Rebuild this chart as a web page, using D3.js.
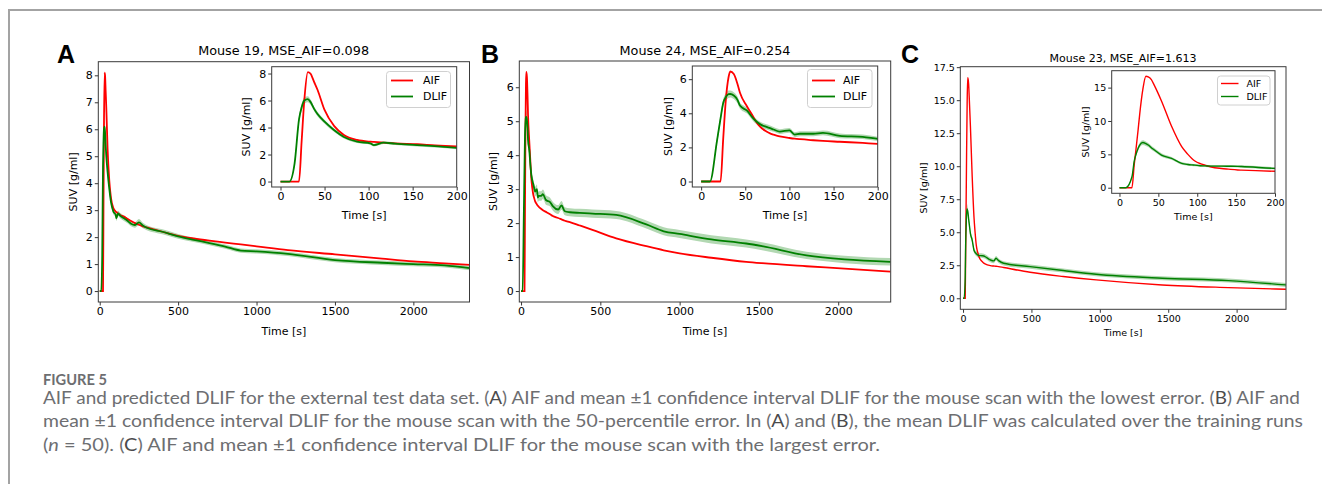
<!DOCTYPE html>
<html>
<head>
<meta charset="utf-8">
<script src="https://cdn.jsdelivr.net/npm/d3@7"></script>
<style>
  html, body { margin: 0; padding: 0; background: #fff; }
  svg { display: block; }
</style>
</head>
<body>
<script>
// ---- Mouse 19 (lowest error) ----
const timeA = [0, 10, 16, 21, 24, 27, 31, 34, 38, 42, 50, 61, 72, 87, 102, 106, 117, 130, 155, 175, 200, 225, 250, 275, 300, 400, 500, 600, 700, 800, 900, 1000, 1200, 1500, 1800, 2000, 2200, 2360];
const aifA  = [0, 0, 0, 0, 3.0, 6.0, 8.1, 8.0, 7.4, 6.8, 5.3, 4.1, 3.45, 3.08, 2.95, 2.93, 2.88, 2.82, 2.76, 2.68, 2.6, 2.52, 2.46, 2.4, 2.36, 2.2, 2.05, 1.95, 1.87, 1.8, 1.73, 1.66, 1.52, 1.36, 1.2, 1.1, 1.03, 0.97];
const dlifA = [0, 0, 1.35, 4.6, 5.5, 6.0, 6.1, 5.9, 5.4, 5.0, 4.43, 3.8, 3.3, 2.95, 2.83, 2.7, 2.88, 2.8, 2.7, 2.62, 2.5, 2.45, 2.55, 2.43, 2.35, 2.2, 2.03, 1.9, 1.78, 1.65, 1.5, 1.47, 1.38, 1.15, 1.05, 1.0, 0.95, 0.85];
const ciA   = [0, 0, 0.15, 0.25, 0.25, 0.25, 0.22, 0.2, 0.18, 0.16, 0.15, 0.13, 0.12, 0.1, 0.1, 0.1, 0.1, 0.1, 0.1, 0.1, 0.1, 0.1, 0.12, 0.1, 0.09, 0.09, 0.09, 0.08, 0.08, 0.08, 0.08, 0.08, 0.08, 0.08, 0.08, 0.08, 0.08, 0.08];

// ---- Mouse 24 (median error) ----
const timeB = [0, 10, 18, 22, 25, 28, 31, 33, 37, 41, 44, 52, 59, 63, 67, 74, 78, 82, 89, 100, 106, 112, 127, 138, 157, 183, 200, 234, 255, 276, 308, 370, 450, 600, 790, 900, 1000, 1200, 1420, 1520, 1800, 2040, 2330];
const aifB  = [0, 0, 0, 0, 2.5, 4.8, 6.1, 6.45, 6.3, 5.75, 5.2, 4.4, 3.8, 3.45, 3.2, 2.93, 2.82, 2.75, 2.64, 2.55, 2.51, 2.48, 2.42, 2.38, 2.33, 2.26, 2.21, 2.15, 2.11, 2.07, 2.03, 1.93, 1.8, 1.55, 1.32, 1.2, 1.11, 0.98, 0.86, 0.82, 0.73, 0.66, 0.57];
const dlifB = [0, 0, 2.4, 3.7, 4.6, 4.95, 5.12, 5.13, 5.04, 4.8, 4.45, 4.15, 3.7, 3.5, 3.35, 3.2, 3.13, 3.05, 2.93, 3.0, 2.75, 2.8, 2.8, 2.85, 2.68, 2.62, 2.5, 2.4, 2.52, 2.35, 2.32, 2.3, 2.28, 2.24, 1.96, 1.76, 1.68, 1.52, 1.4, 1.32, 1.05, 0.93, 0.86];
const ciB   = [0, 0, 0.2, 0.22, 0.22, 0.22, 0.22, 0.2, 0.2, 0.2, 0.18, 0.17, 0.16, 0.15, 0.15, 0.15, 0.15, 0.14, 0.14, 0.14, 0.14, 0.14, 0.14, 0.14, 0.14, 0.13, 0.13, 0.13, 0.13, 0.12, 0.12, 0.12, 0.12, 0.12, 0.12, 0.12, 0.12, 0.12, 0.12, 0.12, 0.11, 0.11, 0.11];

// ---- Mouse 23 (largest error) ----
const timeC = [0, 8, 16, 19, 21, 24, 26, 30, 34, 37, 41, 45, 54, 67, 80, 88, 93, 97, 104, 110, 118, 131, 140, 152, 157, 200, 225, 241, 260, 297, 490, 732, 973, 1456, 1940, 2360];
const aifC  = [0, 0, 0, 3.5, 5.5, 8.7, 11.0, 14.7, 16.7, 16.6, 16.2, 15.3, 13.0, 9.2, 6.16, 5.0, 4.39, 4.0, 3.6, 3.38, 3.1, 2.88, 2.78, 2.66, 2.63, 2.47, 2.44, 2.42, 2.4, 2.33, 1.97, 1.65, 1.39, 1.01, 0.81, 0.68];
const dlifC = [0, 0, 1.6, 4.0, 4.9, 5.9, 6.4, 6.77, 6.6, 6.4, 6.0, 5.66, 4.9, 4.4, 3.64, 3.48, 3.42, 3.38, 3.3, 3.27, 3.23, 3.23, 3.22, 3.2, 3.18, 2.9, 2.83, 3.03, 2.85, 2.65, 2.4, 2.1, 1.82, 1.52, 1.34, 1.01];
const ciC   = [0, 0, 0.25, 0.35, 0.35, 0.35, 0.35, 0.35, 0.33, 0.3, 0.3, 0.28, 0.25, 0.22, 0.2, 0.18, 0.18, 0.18, 0.18, 0.18, 0.18, 0.17, 0.17, 0.17, 0.17, 0.17, 0.17, 0.17, 0.17, 0.16, 0.16, 0.15, 0.15, 0.15, 0.15, 0.15];

// ---- Titles and tick labels ----
const panelLetters = ["A", "B", "C"];
const titles = ["Mouse 19, MSE_AIF=0.098", "Mouse 24, MSE_AIF=0.254", "Mouse 23, MSE_AIF=1.613"];
const mainXTicks = [0, 500, 1000, 1500, 2000];
const insetXTicks = [0, 50, 100, 150, 200];
const mainYTicksA = [0, 1, 2, 3, 4, 5, 6, 7, 8];
const mainYTicksB = [0, 1, 2, 3, 4, 5, 6];
const mainYTicksC = [0, 2.5, 5, 7.5, 10, 12.5, 15, 17.5];
const insetYTicksA = [0, 2, 4, 6, 8];
const insetYTicksB = [0, 2, 4, 6];
const insetYTicksC = [0, 5, 10, 15];
const seriesNames = ["AIF", "DLIF"];
const xLabel = "Time [s]";
const yLabel = "SUV [g/ml]";

const RED = "#ff0000", GREEN = "#008000", BAND = "#b2d8b2";
const FONT = "DejaVu Sans";

const W = 1322, H = 484;
const svg = d3.select("body").append("svg").attr("width", W).attr("height", H);
svg.append("rect").attr("width", W).attr("height", H).attr("fill", "#fff");

// page frame (top and left rules)
svg.append("line").attr("x1", 8).attr("x2", W).attr("y1", 10).attr("y2", 10)
  .attr("stroke", "#a3a3a3").attr("stroke-width", 2);
svg.append("line").attr("x1", 9).attr("x2", 9).attr("y1", 9).attr("y2", H)
  .attr("stroke", "#a3a3a3").attr("stroke-width", 2);

let clipId = 0;

function drawAxes(g, o) {
  const x = d3.scaleLinear().domain(o.xDomain).range([o.left, o.right]);
  const y = d3.scaleLinear().domain(o.yDomain).range([o.bottom, o.top]);
  const id = "clip" + (clipId++);

  g.append("rect").attr("x", o.left).attr("y", o.top)
    .attr("width", o.right - o.left).attr("height", o.bottom - o.top)
    .attr("fill", "#fff");

  g.append("clipPath").attr("id", id).append("rect")
    .attr("x", o.left).attr("y", o.top)
    .attr("width", o.right - o.left).attr("height", o.bottom - o.top);

  const plot = g.append("g").attr("clip-path", `url(#${id})`);
  const rows = o.time.map((t, i) => ({ t, aif: o.aif[i], dlif: o.dlif[i], ci: o.ci[i] }))
    .filter(d => d.t <= o.xDomain[1] + 40);

  const area = d3.area().curve(d3.curveMonotoneX)
    .x(d => x(d.t)).y0(d => y(d.dlif - d.ci)).y1(d => y(d.dlif + d.ci));
  const lineA = d3.line().curve(d3.curveMonotoneX).x(d => x(d.t)).y(d => y(d.aif));
  const lineD = d3.line().curve(d3.curveMonotoneX).x(d => x(d.t)).y(d => y(d.dlif));

  plot.append("path").datum(rows).attr("d", area).attr("fill", BAND).attr("stroke", "none");
  plot.append("path").datum(rows).attr("d", lineA).attr("fill", "none")
    .attr("stroke", RED).attr("stroke-width", o.lw);
  plot.append("path").datum(rows).attr("d", lineD).attr("fill", "none")
    .attr("stroke", GREEN).attr("stroke-width", o.lw);

  // axes
  const xa = d3.axisBottom(x).tickValues(o.xTicks).tickSize(3.5).tickPadding(2).tickFormat(d3.format("d"));
  const ya = d3.axisLeft(y).tickValues(o.yTicks).tickSize(3.5).tickPadding(2).tickFormat(o.yFormat);
  const gx = g.append("g").attr("transform", `translate(0,${o.bottom})`).call(xa);
  const gy = g.append("g").attr("transform", `translate(${o.left},0)`).call(ya);
  [gx, gy].forEach(a => {
    a.select(".domain").remove();
    a.selectAll(".tick line").attr("stroke", "#000").attr("stroke-width", 0.8);
    a.selectAll(".tick text").attr("font-family", FONT).attr("font-size", o.fs).attr("fill", "#000");
  });

  // spines
  g.append("rect").attr("x", o.left).attr("y", o.top)
    .attr("width", o.right - o.left).attr("height", o.bottom - o.top)
    .attr("fill", "none").attr("stroke", "#3a3a3a").attr("stroke-width", 1);

  // axis labels
  g.append("text").attr("x", (o.left + o.right) / 2).attr("y", o.xLabelY)
    .attr("text-anchor", "middle").attr("font-family", FONT).attr("font-size", o.fs)
    .text(xLabel);
  g.append("text")
    .attr("transform", `translate(${o.yLabelX},${(o.top + o.bottom) / 2}) rotate(-90)`)
    .attr("text-anchor", "middle").attr("dominant-baseline", "central")
    .attr("font-family", FONT).attr("font-size", o.fs).text(yLabel);

  return { x, y };
}

function drawLegend(g, L) {
  g.append("rect").attr("x", L.x0).attr("y", L.y0)
    .attr("width", L.x1 - L.x0).attr("height", L.y1 - L.y0).attr("rx", 3)
    .attr("fill", "#fff").attr("stroke", "#d0d0d0").attr("stroke-width", 1);
  [RED, GREEN].forEach((c, i) => {
    const yy = L.rows[i];
    g.append("line").attr("x1", L.lx0).attr("x2", L.lx1).attr("y1", yy).attr("y2", yy)
      .attr("stroke", c).attr("stroke-width", L.lw);
    g.append("text").attr("x", L.tx).attr("y", yy).attr("dominant-baseline", "central")
      .attr("font-family", FONT).attr("font-size", L.fs).text(seriesNames[i]);
  });
}

const panels = [
  {
    letter: { x: 57, y: 63 }, title: { x: 283.6, y: 55, fs: 12.8 },
    time: timeA, aif: aifA, dlif: dlifA, ci: ciA,
    main: { left: 98.3, right: 469.5, top: 61.7, bottom: 302, xDomain: [-9, 2358], yDomain: [-0.405, 8.505],
            xTicks: mainXTicks, yTicks: mainYTicksA, yFormat: d3.format("d"), fs: 11, lw: 1.8,
            xLabelY: 334.5, yLabelX: 73.5 },
    inset: { left: 271.7, right: 456.7, top: 66.7, bottom: 187, xDomain: [-10, 200], yDomain: [-0.405, 8.505],
             xTicks: insetXTicks, yTicks: insetYTicksA, yFormat: d3.format("d"), fs: 11, lw: 1.8,
             xLabelY: 218.5, yLabelX: 246.5 },
    legend: { x0: 386.5, x1: 450.5, y0: 71.5, y1: 107.5, rows: [80.5, 96.5], lx0: 391, lx1: 413, tx: 423, fs: 11, lw: 1.8 }
  },
  {
    letter: { x: 481, y: 63 }, title: { x: 705, y: 55, fs: 12.8 },
    time: timeB, aif: aifB, dlif: dlifB, ci: ciB,
    main: { left: 519.3, right: 890.7, top: 61, bottom: 302, xDomain: [-11, 2331], yDomain: [-0.3225, 6.7725],
            xTicks: mainXTicks, yTicks: mainYTicksB, yFormat: d3.format("d"), fs: 11, lw: 1.8,
            xLabelY: 334.5, yLabelX: 493.5 },
    inset: { left: 692.3, right: 877.7, top: 66, bottom: 187, xDomain: [-10, 200], yDomain: [-0.3225, 6.7725],
             xTicks: insetXTicks, yTicks: insetYTicksB, yFormat: d3.format("d"), fs: 11, lw: 1.8,
             xLabelY: 218.5, yLabelX: 668 },
    legend: { x0: 807.5, x1: 872, y0: 69.5, y1: 107.5, rows: [80.5, 96.5], lx0: 812, lx1: 835, tx: 843, fs: 11, lw: 1.8 }
  },
  {
    letter: { x: 901, y: 63 }, title: { x: 1123, y: 61.5, fs: 11 },
    time: timeC, aif: aifC, dlif: dlifC, ci: ciC,
    main: { left: 960.3, right: 1286, top: 66.7, bottom: 309.3, xDomain: [-20, 2361], yDomain: [-0.835, 17.535],
            xTicks: mainXTicks, yTicks: mainYTicksC, yFormat: d3.format(".1f"), fs: 9.5, lw: 1.4,
            xLabelY: 336, yLabelX: 923.5 },
    inset: { left: 1111.7, right: 1275, top: 70.7, bottom: 193.3, xDomain: [-10, 200], yDomain: [-0.835, 17.535],
             xTicks: insetXTicks, yTicks: insetYTicksC, yFormat: d3.format("d"), fs: 9.5, lw: 1.4,
             xLabelY: 219.5, yLabelX: 1085 },
    legend: { x0: 1217.5, x1: 1270, y0: 76, y1: 105, rows: [83.5, 96.5], lx0: 1221, lx1: 1238.5, tx: 1246.5, fs: 9.5, lw: 1.4 }
  }
];

panels.forEach((p, i) => {
  const g = svg.append("g");
  const series = { time: p.time, aif: p.aif, dlif: p.dlif, ci: p.ci };
  drawAxes(g, Object.assign({}, p.main, series));
  g.append("text").attr("x", p.title.x).attr("y", p.title.y).attr("text-anchor", "middle")
    .attr("font-family", FONT).attr("font-size", p.title.fs).text(titles[i]);
  g.append("text").attr("x", p.letter.x).attr("y", p.letter.y)
    .attr("font-family", "Liberation Sans, Arial, sans-serif").attr("font-weight", "bold")
    .attr("font-size", 25).text(panelLetters[i]);
  const gi = g.append("g");
  drawAxes(gi, Object.assign({}, p.inset, series));
  drawLegend(gi, p.legend);
});

// ---- Caption ----
const CAP_FONT = "Lato, Open Sans, sans-serif";
const capColor = "#6d6e71", capStrong = "#4a4a4c";
svg.append("text").attr("x", 43).attr("y", 384.5).attr("font-family", CAP_FONT)
  .attr("font-size", 14.5).attr("font-weight", 700).attr("fill", capColor)
  .attr("textLength", 64).attr("lengthAdjust", "spacingAndGlyphs").text("FIGURE 5");

const captionLines = [
  [["AIF and predicted DLIF for the external test data set. ("], ["A", 1], [") AIF and mean \u00B11 confidence interval DLIF for the mouse scan with the lowest error. ("], ["B", 1], [") AIF and"]],
  [["mean \u00B11 confidence interval DLIF for the mouse scan with the 50-percentile error. In ("], ["A", 1], [") and ("], ["B", 1], ["), the mean DLIF was calculated over the training runs"]],
  [["("], ["n", 2], [" = 50). ("], ["C", 1], [") AIF and mean \u00B11 confidence interval DLIF for the mouse scan with the largest error."]]
];
const capY = [404, 427.3, 450.6];
const capWidths = [1257, 1260, 837];
captionLines.forEach((parts, i) => {
  const t = svg.append("text").attr("x", 43).attr("y", capY[i])
    .attr("font-family", CAP_FONT).attr("font-size", 16.5).attr("fill", capColor)
    .attr("textLength", capWidths[i]).attr("lengthAdjust", "spacingAndGlyphs");
  parts.forEach(([s, k]) => {
    const ts = t.append("tspan").text(s);
    if (k === 1) ts.attr("fill", capStrong);
    if (k === 2) ts.attr("font-style", "italic");
  });
});
</script>
</body>
</html>
